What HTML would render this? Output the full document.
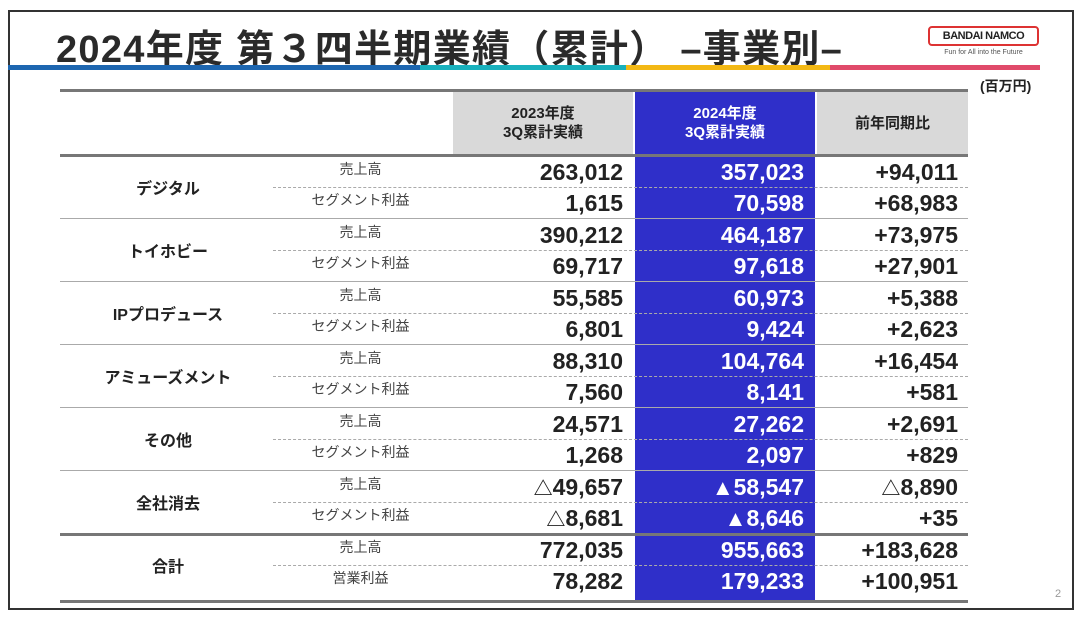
<!DOCTYPE html>
<html><head><meta charset="utf-8"><style>
*{margin:0;padding:0;box-sizing:border-box}
body{width:1080px;height:619px;background:#fff;position:relative;overflow:hidden;font-family:"Liberation Sans","Noto Sans CJK JP",sans-serif;color:#222}
.a{position:absolute}
.frame{left:8px;top:10px;width:1066px;height:600px;border:2px solid #333}
.title{left:56px;top:18px;font-size:38px;font-weight:bold;letter-spacing:1.3px;color:#2a2a2a;white-space:nowrap}
.bar{top:65px;height:5px}
.hdr{top:92px;height:62px;display:flex;align-items:center;justify-content:center;text-align:center;font-size:15px;line-height:19px;font-weight:bold}
.hl{height:3px;background:#777}
.sl{height:1px;background:#aaa}
.dl{height:0;border-top:1px dashed #aaa}
.g{left:60px;width:216px;text-align:center;font-size:16px;font-weight:bold}
.s{left:273px;width:175px;text-align:center;font-size:14px;color:#444}
.n{text-align:right;font-size:23px;font-weight:bold;line-height:26px}
.t{font-size:19px}
.t2{font-size:22px}
</style></head><body>
<div class="a frame"></div>
<div class="a title">2024年度 第３四半期業績（累計） –事業別–</div>
<div class="a" style="left:928px;top:26px;width:111px;height:20px;border:2px solid #d33;border-radius:4px;font-size:11px;font-weight:bold;text-align:center;line-height:16px;letter-spacing:-0.5px">BANDAI NAMCO</div>
<div class="a" style="left:928px;top:49px;width:111px;font-size:7px;text-align:center;color:#555">Fun for All into the Future</div>
<div class="a bar" style="left:8px;width:412px;background:#1d66b0"></div>
<div class="a bar" style="left:420px;width:206px;background:#19b1bd"></div>
<div class="a bar" style="left:626px;width:204px;background:#f3b814"></div>
<div class="a bar" style="left:830px;width:210px;background:#e04a6a"></div>
<div class="a" style="left:980px;top:76px;font-size:14px;font-weight:bold">(百万円)</div>
<div class="a" style="left:453px;top:92px;width:180px;height:62px;background:#d9d9d9"></div>
<div class="a" style="left:635px;top:92px;width:180px;height:510px;background:#2f2fc9"></div>
<div class="a" style="left:817px;top:92px;width:151px;height:62px;background:#d9d9d9"></div>
<div class="a hdr" style="left:453px;width:180px">2023年度<br>3Q累計実績</div>
<div class="a hdr" style="left:635px;width:180px;color:#fff">2024年度<br>3Q累計実績</div>
<div class="a hdr" style="left:817px;width:151px">前年同期比</div>
<div class="a hl" style="left:60px;top:89px;width:908px"></div>
<div class="a hl" style="left:60px;top:154px;width:908px"></div>
<div id="rows"></div>
<script>
var d=[["デジタル","売上高","263,012","357,023","+94,011","セグメント利益","1,615","70,598","+68,983"],
["トイホビー","売上高","390,212","464,187","+73,975","セグメント利益","69,717","97,618","+27,901"],
["IPプロデュース","売上高","55,585","60,973","+5,388","セグメント利益","6,801","9,424","+2,623"],
["アミューズメント","売上高","88,310","104,764","+16,454","セグメント利益","7,560","8,141","+581"],
["その他","売上高","24,571","27,262","+2,691","セグメント利益","1,268","2,097","+829"],
["全社消去","売上高","△49,657","▲58,547","△8,890","セグメント利益","△8,681","▲8,646","+35"],
["合計","売上高","772,035","955,663","+183,628","営業利益","78,282","179,233","+100,951"]];
function f(s){return s.replace(/△/,'<span class="t">△</span>').replace(/▲/,'<span class="t2">▲</span>');}
var h="";
for(var i=0;i<7;i++){var r=d[i],t=156+i*63;
h+='<div class="a g" style="top:'+(t+19)+'px">'+r[0]+'</div>';
for(var k=0;k<2;k++){var y=t+k*31,o=1+k*4;
h+='<div class="a s" style="top:'+(y+3)+'px">'+r[o]+'</div>';
h+='<div class="a n" style="left:453px;width:170px;top:'+(y+3)+'px">'+f(r[o+1])+'</div>';
h+='<div class="a n" style="left:635px;width:169px;top:'+(y+3)+'px;color:#fff">'+f(r[o+2])+'</div>';
h+='<div class="a n" style="left:817px;width:141px;top:'+(y+3)+'px">'+f(r[o+3])+'</div>';}
h+='<div class="a dl" style="left:273px;width:695px;top:'+(t+31)+'px"></div>';
if(i<6)h+='<div class="a '+(i==5?'hl':'sl')+'" style="left:60px;width:908px;top:'+(t+62)+'px"></div>';}
h+='<div class="a hl" style="left:60px;width:908px;top:600px"></div>';
document.getElementById("rows").innerHTML=h;
</script>
<div class="a" style="left:1055px;top:588px;font-size:11px;color:#999">2</div>
</body></html>
